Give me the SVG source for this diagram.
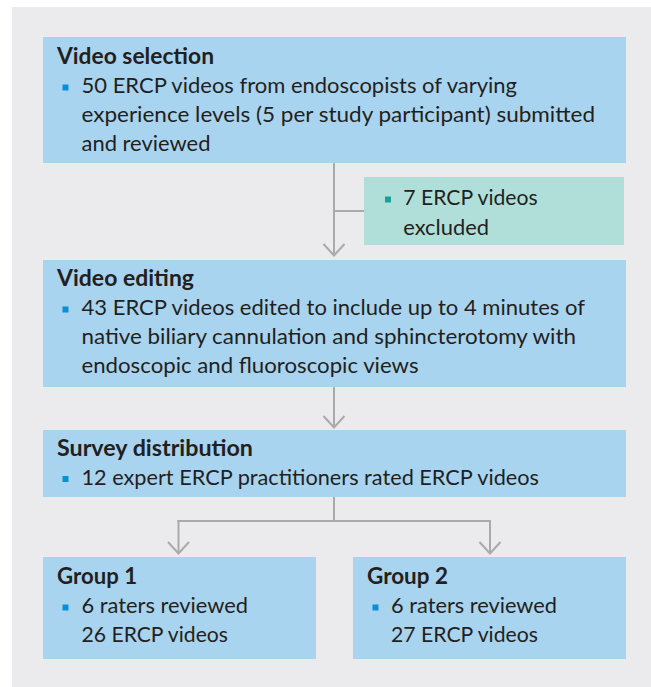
<svg xmlns="http://www.w3.org/2000/svg" width="651" height="687" viewBox="0 0 651 687">
<style>
.bg{fill:#ebebee}
.box{fill:#a9d4ef}
.teal{fill:#b0dfda}
text{font-family:Lato,"Open Sans","Liberation Sans",sans-serif;font-size:22px;fill:#231f20}
.t{font-weight:bold}
.b{fill:#0a8fd6}
.bt{fill:#14a39a}
.c{fill:none;stroke:#aaaaab;stroke-width:2}
.a{marker-end:url(#ah)}
</style>
<defs>
<marker id="ah" viewBox="-13 -12 15 24" refX="0" refY="0" markerWidth="15" markerHeight="24" markerUnits="userSpaceOnUse" orient="auto">
<path d="M-11.5,-10.5 L0,0 L-11.5,10.5" fill="none" stroke="#aaaaab" stroke-width="2"/>
</marker>
</defs>
<rect class="bg" x="12" y="7" width="639" height="680"/>
<g id="connectors">
<path class="c a" d="M334,163 V255.5"/>
<path class="c" d="M334,211 H364"/>
<path class="c a" d="M334,387 V427.5"/>
<path class="c" d="M334,497 V521 M177.5,521 H491"/>
<path class="c a" d="M178.5,520 V553.5"/>
<path class="c a" d="M490,520 V553.5"/>
</g>
<g id="video-selection">
<rect class="box" x="43" y="37" width="583" height="126"/>
<text class="t" x="57" y="64" textLength="157" lengthAdjust="spacingAndGlyphs">Video selection</text>
<rect class="b" x="62.5" y="84.5" width="6" height="6"/>
<text x="81.5" y="93" textLength="435.5" lengthAdjust="spacingAndGlyphs">50 ERCP videos from endoscopists of varying</text>
<text x="81.5" y="122" textLength="513.5" lengthAdjust="spacingAndGlyphs">experience levels (5 per study participant) submitted</text>
<text x="81.5" y="151" textLength="129" lengthAdjust="spacingAndGlyphs">and reviewed</text>
</g>
<g id="excluded">
<rect class="teal" x="364" y="177" width="260" height="68"/>
<rect class="bt" x="385" y="196.5" width="6" height="6"/>
<text x="403.3" y="205" textLength="134.4" lengthAdjust="spacingAndGlyphs">7 ERCP videos</text>
<text x="403.3" y="234.5" textLength="85.7" lengthAdjust="spacingAndGlyphs">excluded</text>
</g>
<g id="video-editing">
<rect class="box" x="43" y="260" width="583" height="127"/>
<text class="t" x="57" y="286" textLength="137" lengthAdjust="spacingAndGlyphs">Video editing</text>
<rect class="b" x="62.5" y="306.5" width="6" height="6"/>
<text x="81.5" y="315" textLength="503.5" lengthAdjust="spacingAndGlyphs">43 ERCP videos edited to include up to 4 minutes of</text>
<text x="81.5" y="344" textLength="494.5" lengthAdjust="spacingAndGlyphs">native biliary cannulation and sphincterotomy with</text>
<text x="81.5" y="373" textLength="337" lengthAdjust="spacingAndGlyphs">endoscopic and fluoroscopic views</text>
</g>
<g id="survey-distribution">
<rect class="box" x="43" y="430" width="583" height="67"/>
<text class="t" x="57" y="456" textLength="196" lengthAdjust="spacingAndGlyphs">Survey distribution</text>
<rect class="b" x="62.5" y="476" width="6" height="6"/>
<text x="81.5" y="484.5" textLength="457.5" lengthAdjust="spacingAndGlyphs">12 expert ERCP practitioners rated ERCP videos</text>
</g>
<g id="group-1">
<rect class="box" x="43" y="557" width="273" height="102"/>
<text class="t" x="57" y="584" textLength="80" lengthAdjust="spacingAndGlyphs">Group 1</text>
<rect class="b" x="62.5" y="604.5" width="6" height="6"/>
<text x="81.5" y="613" textLength="166.5" lengthAdjust="spacingAndGlyphs">6 raters reviewed</text>
<text x="81.5" y="642" textLength="146.5" lengthAdjust="spacingAndGlyphs">26 ERCP videos</text>
</g>
<g id="group-2">
<rect class="box" x="353" y="557" width="273" height="102"/>
<text class="t" x="367" y="584" textLength="81" lengthAdjust="spacingAndGlyphs">Group 2</text>
<rect class="b" x="372.5" y="604.5" width="6" height="6"/>
<text x="391" y="613" textLength="166" lengthAdjust="spacingAndGlyphs">6 raters reviewed</text>
<text x="391" y="642" textLength="147" lengthAdjust="spacingAndGlyphs">27 ERCP videos</text>
</g>
</svg>
